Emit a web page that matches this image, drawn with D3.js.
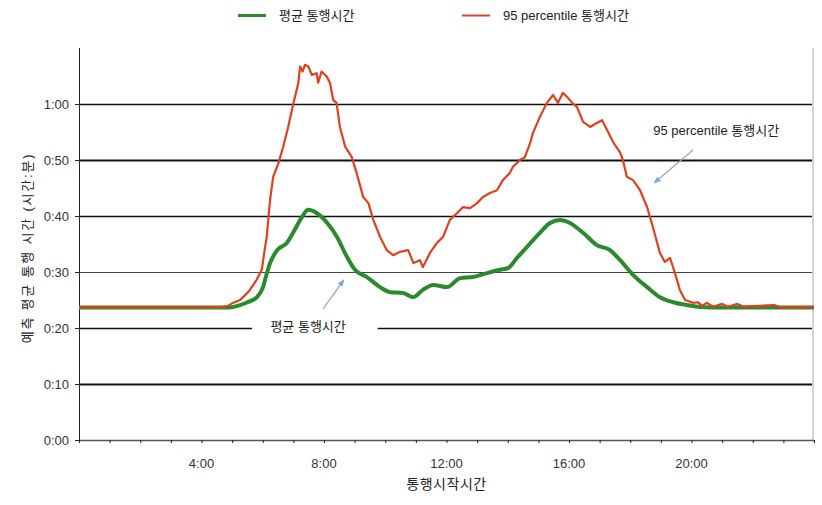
<!DOCTYPE html>
<html>
<head>
<meta charset="utf-8">
<style>
  body { margin: 0; background: #fff; }
  svg text { font-family: "Liberation Sans", Arial, "Noto Sans CJK KR", sans-serif; fill: #222; }
</style>
</head>
<body>
<div id="chart"></div>
<script src="https://cdnjs.cloudflare.com/ajax/libs/d3/7.8.5/d3.min.js"></script>
<script>
// Series names
const SERIES = ['평균 통행시간', '95 percentile 통행시간'];

// 95 percentile travel time: start hour / minutes
const redHours = [0, 4.6, 4.85, 5.0, 5.26, 5.45, 5.58, 5.8, 5.97, 6.05, 6.13, 6.24, 6.34, 6.51, 6.67, 6.83, 7.0, 7.16, 7.22, 7.3, 7.38, 7.49, 7.6, 7.76, 7.81, 7.92, 8.09, 8.2, 8.3, 8.41, 8.52, 8.69, 8.9, 9.07, 9.28, 9.45, 9.61, 9.83, 10.05, 10.26, 10.48, 10.75, 10.92, 11.13, 11.23, 11.46, 11.69, 11.89, 12.11, 12.34, 12.54, 12.77, 13.0, 13.19, 13.42, 13.65, 13.84, 14.07, 14.17, 14.4, 14.56, 14.73, 14.82, 15.05, 15.28, 15.48, 15.64, 15.8, 15.97, 16.1, 16.26, 16.46, 16.69, 16.91, 17.08, 17.24, 17.44, 17.67, 17.76, 17.89, 18.09, 18.32, 18.55, 18.74, 18.97, 19.13, 19.3, 19.46, 19.62, 19.79, 20.05, 20.2, 20.35, 20.51, 20.7, 21.0, 21.2, 21.5, 21.7, 22.7, 22.9, 24];
const redMinutes = [23.7, 23.7, 23.9, 24.4, 25.0, 26.0, 26.8, 28.6, 30.4, 33.5, 36.3, 42.9, 47.0, 49.4, 52.4, 55.9, 60.1, 63.7, 66.7, 65.8, 67.0, 66.7, 65.2, 65.5, 63.8, 65.8, 64.9, 63.7, 60.7, 60.2, 55.9, 52.4, 50.6, 47.6, 43.4, 42.3, 39.3, 36.3, 33.9, 33.0, 33.6, 33.9, 31.6, 32.1, 30.9, 33.4, 35.2, 36.3, 39.3, 40.5, 41.6, 41.4, 42.3, 43.4, 44.1, 44.6, 46.4, 47.7, 48.8, 50.0, 50.5, 53.0, 54.8, 57.7, 60.2, 61.6, 60.2, 62.0, 61.1, 60.2, 59.5, 56.8, 55.9, 56.6, 57.1, 55.4, 53.2, 51.3, 50.0, 47.0, 46.4, 44.6, 41.6, 38.0, 33.4, 31.8, 32.5, 29.8, 26.8, 25.0, 24.5, 24.6, 24.0, 24.5, 23.8, 24.3, 23.8, 24.3, 23.8, 24.1, 23.7, 23.7];

// average travel time: start hour / minutes
const greenHours = [0, 4.9, 5.26, 5.5, 5.81, 6.01, 6.12, 6.24, 6.47, 6.79, 6.99, 7.28, 7.48, 7.77, 8.1, 8.42, 8.75, 9.01, 9.4, 9.83, 10.16, 10.58, 10.91, 11.23, 11.56, 12.02, 12.44, 12.87, 13.32, 13.75, 14.01, 14.3, 14.63, 15.05, 15.38, 15.71, 16.03, 16.46, 16.91, 17.34, 17.67, 18.09, 18.55, 18.97, 19.4, 19.85, 20.28, 21, 24];
const greenMinutes = [23.65, 23.65, 24.1, 24.6, 25.5, 27.3, 29.5, 31.6, 33.9, 35.2, 37.0, 39.8, 41.1, 40.5, 38.8, 36.3, 32.7, 30.4, 29.1, 27.3, 26.4, 26.25, 25.5, 26.8, 27.7, 27.3, 28.9, 29.1, 29.8, 30.4, 30.7, 32.5, 34.5, 37.0, 38.75, 39.3, 38.75, 37.0, 34.8, 33.9, 32.1, 29.5, 27.3, 25.5, 24.6, 24.1, 23.75, 23.65, 23.65];

// Axis ticks
const yTicks = [0, 10, 20, 30, 40, 50, 60];
const xTicks = d3.range(0, 25);
const xLabels = [4, 8, 12, 16, 20];

function main() {
  var W = 822, H = 505;
  var LEFT = 79, RIGHT = 814, TOP = 48, BOTTOM = 440;

  var svg = d3.select('#chart').append('svg')
    .attr('width', W).attr('height', H);

  var x = d3.scaleLinear().domain([0, 24]).range([LEFT, RIGHT]);
  var y = d3.scaleLinear().domain([0, 70]).range([BOTTOM, TOP]);

  function fmt(m) { return Math.floor(m / 60) + ':' + String(m % 60).padStart(2, '0'); }

  // gridlines (Excel-ish, uneven weights)
  var gridW = { 10: 2, 20: 1.4, 30: 1, 40: 1.3, 50: 2, 60: 1.3 };
  svg.append('g').selectAll('line')
    .data(yTicks.filter(d => d > 0))
    .enter().append('line')
    .attr('x1', LEFT).attr('x2', RIGHT - 2)
    .attr('y1', d => Math.round(y(d)) + 0.5).attr('y2', d => Math.round(y(d)) + 0.5)
    .style('stroke', d => d === 30 ? '#444' : '#111')
    .style('stroke-width', d => gridW[d]);

  // right border
  svg.append('line')
    .attr('x1', RIGHT - 1).attr('x2', RIGHT - 1).attr('y1', TOP).attr('y2', BOTTOM)
    .style('stroke', '#aaa');

  // y axis
  var yAxis = svg.append('g')
    .attr('transform', 'translate(' + LEFT + ',0)')
    .call(d3.axisLeft(y).tickValues(yTicks).tickFormat(fmt).tickSize(4).tickPadding(6));
  yAxis.select('.domain').attr('d', 'M0.5,' + TOP + 'V' + (BOTTOM + 0.5)).style('stroke', '#222');
  yAxis.selectAll('line').style('stroke', '#222');
  yAxis.selectAll('text').style('font-size', '13px').style('fill', '#333');

  // x axis
  var xAxis = svg.append('g')
    .attr('transform', 'translate(0,' + BOTTOM + ')')
    .call(d3.axisBottom(x).tickValues(xTicks).tickSize(3).tickFormat(''));
  xAxis.select('.domain').attr('d', 'M' + LEFT + ',0.5H' + RIGHT).style('stroke', '#555').style('stroke-width', 1.5);
  xAxis.selectAll('line').style('stroke', '#222');

  svg.append('g').selectAll('text')
    .data(xLabels)
    .enter().append('text')
    .attr('x', d => x(d))
    .attr('y', BOTTOM + 28)
    .attr('text-anchor', 'middle')
    .style('font-size', '13px').style('fill', '#333')
    .text(d => d + ':00');

  svg.append('text')
    .attr('x', x(12))
    .attr('y', BOTTOM + 49)
    .attr('text-anchor', 'middle')
    .style('font-size', '14px')
    .style('letter-spacing', '0.5px')
    .text('통행시작시간');

  svg.append('text')
    .attr('transform', 'translate(32,248) rotate(-90)')
    .attr('text-anchor', 'middle')
    .style('font-size', '13px')
    .style('letter-spacing', '1.8px')
    .text('예측 평균 통행 시간 (시간:분)');

  // annotation for average line: white box breaking the 0:20 gridline
  svg.append('rect')
    .attr('x', x(5.65)).attr('y', y(20) - 11)
    .attr('width', x(9.75) - x(5.65)).attr('height', 20)
    .style('fill', '#fff');
  svg.append('text')
    .attr('x', x(6.25)).attr('y', y(20) + 3)
    .style('font-size', '13px')
    .text(SERIES[0]);

  svg.append('text')
    .attr('x', x(18.75)).attr('y', y(54.4))
    .style('font-size', '13px')
    .text(SERIES[1]);

  var defs = svg.append('defs');
  defs.append('marker')
    .attr('id', 'arr').attr('viewBox', '0 0 10 10')
    .attr('refX', 9).attr('refY', 5)
    .attr('markerWidth', 6).attr('markerHeight', 6)
    .attr('orient', 'auto')
    .append('path').attr('d', 'M0,1L10,5L0,9Z').style('fill', '#86a8cc');

  var arrows = [
    [7.97, 23.4, 8.65, 28.6],
    [20.05, 51.8, 18.78, 45.9]
  ];
  svg.append('g').selectAll('line')
    .data(arrows)
    .enter().append('line')
    .attr('x1', d => x(d[0])).attr('y1', d => y(d[1]))
    .attr('x2', d => x(d[2])).attr('y2', d => y(d[3]))
    .style('stroke', '#86a8cc').style('stroke-width', 1.2)
    .attr('marker-end', 'url(#arr)');

  // lines
  var green = greenHours.map((h, i) => [h, greenMinutes[i]]);
  var red = redHours.map((h, i) => [h, redMinutes[i]]);
  var line = d3.line().x(d => x(d[0])).y(d => y(d[1]));

  svg.append('path')
    .attr('d', line.curve(d3.curveMonotoneX)(green))
    .style('fill', 'none').style('stroke', '#2b8a2b').style('stroke-width', 4)
    .style('stroke-linejoin', 'round');

  svg.append('path')
    .attr('d', line.curve(d3.curveLinear)(red))
    .style('fill', 'none').style('stroke', '#e2401c').style('stroke-width', 2.2)
    .style('stroke-linejoin', 'round');

  // legend
  var legend = [
    { name: SERIES[0], color: '#2b8a2b', x: 238, w: 3 },
    { name: SERIES[1], color: '#d9442a', x: 462, w: 2 }
  ];
  var lg = svg.append('g').selectAll('g').data(legend).enter().append('g');
  lg.append('line')
    .attr('x1', d => d.x).attr('x2', d => d.x + 28)
    .attr('y1', 15.5).attr('y2', 15.5)
    .style('stroke', d => d.color).style('stroke-width', d => d.w);
  lg.append('text')
    .attr('x', d => d.x + 41).attr('y', 20)
    .style('font-size', '13px')
    .text(d => d.name);
}
main();
</script>
</body>
</html>
